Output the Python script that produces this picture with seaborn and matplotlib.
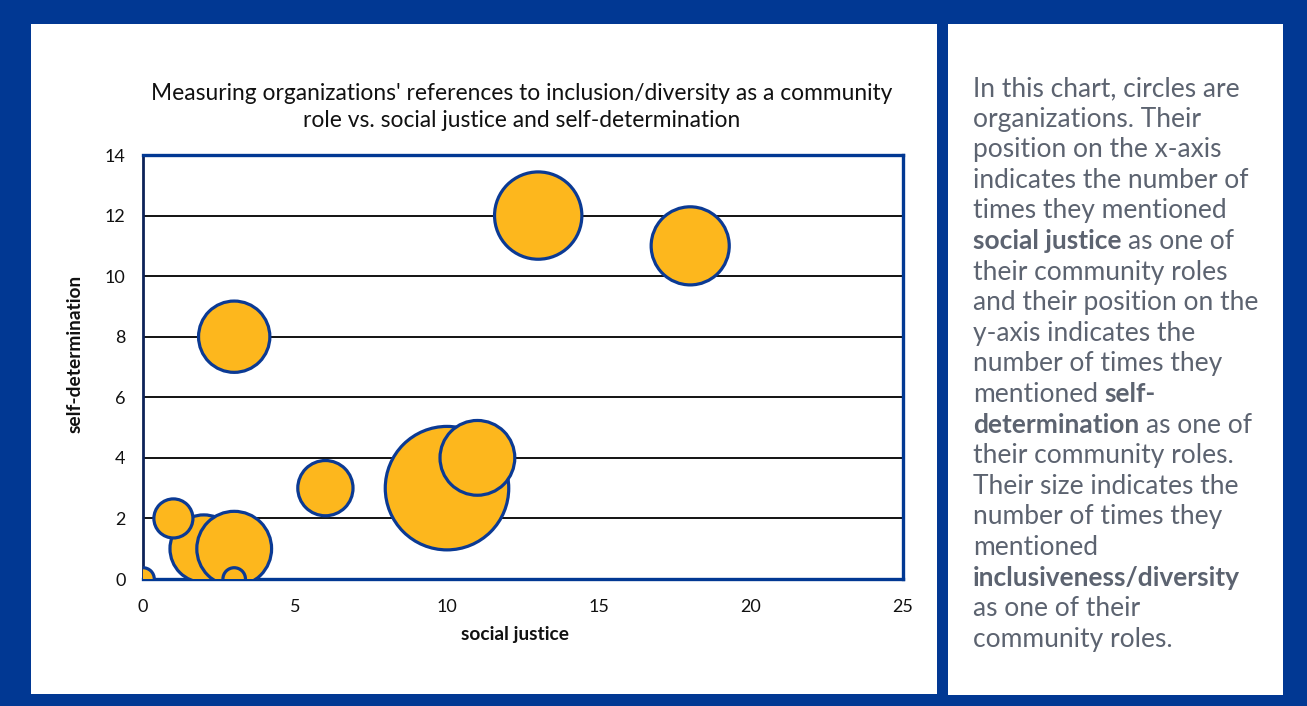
import matplotlib
matplotlib.use("Agg")
import matplotlib.pyplot as plt
from matplotlib.patches import Rectangle
import pandas as pd
import seaborn as sns

# Organizations: mentions of social justice (x), self-determination (y)
# and inclusiveness/diversity (bubble size)
social_justice = [10, 13, 18, 11, 2, 3, 3, 6, 1, 0, 3]
self_determination = [3, 12, 11, 4, 1, 1, 8, 3, 2, 0, 0]
inclusiveness = [30, 15, 12, 11, 9, 11, 10, 6, 3, 1, 1]

x_ticks = [0, 5, 10, 15, 20, 25]
y_ticks = [0, 2, 4, 6, 8, 10, 12, 14]

title_lines = [
    "Measuring organizations' references to inclusion/diversity as a community",
    "role vs. social justice and self-determination",
]
x_label = "social justice"
y_label = "self-determination"

# Side note, line by line; (text, bold) segments
note_lines = [
    [("In this chart, circles are", False)],
    [("organizations. Their", False)],
    [("position on the x-axis", False)],
    [("indicates the number of", False)],
    [("times they mentioned", False)],
    [("social justice", True), (" as one of", False)],
    [("their community roles", False)],
    [("and their position on the", False)],
    [("y-axis indicates the", False)],
    [("number of times they", False)],
    [("mentioned ", False), ("self-", True)],
    [("determination", True), (" as one of", False)],
    [("their community roles.", False)],
    [("Their size indicates the", False)],
    [("number of times they", False)],
    [("mentioned", False)],
    [("inclusiveness/diversity", True)],
    [("as one of their", False)],
    [("community roles.", False)],
]

BLUE = "#013893"
EDGE = "#0b3a94"
GOLD = "#fdb71d"
NOTE_GREY = "#5c6370"

sns.set_theme(style="white")
plt.rcParams["font.family"] = ["Lato", "DejaVu Sans"]

W, H = 1307, 706
fig = plt.figure(figsize=(W / 100, H / 100), dpi=100, facecolor=BLUE)


def fx(px):
    return px / W


def fy(py):
    return 1 - py / H


# white panels on the blue background, kept beneath the axes
fig.patches.append(Rectangle((fx(31), fy(694)), (937 - 31) / W, (694 - 24) / H,
                             transform=fig.transFigure, facecolor="white",
                             edgecolor="none", zorder=-2))
fig.patches.append(Rectangle((fx(948), fy(695)), (1283 - 948) / W, (695 - 24) / H,
                             transform=fig.transFigure, facecolor="white",
                             edgecolor="none", zorder=-2))

ax = fig.add_axes([fx(143), fy(579), (903 - 143) / W, (579 - 155) / H])
ax.set_facecolor("white")

df = pd.DataFrame({
    "social justice": social_justice,
    "self-determination": self_determination,
    "inclusiveness": inclusiveness,
})

S_MAX = 7905  # marker area (pt^2) for the largest count
sns.scatterplot(data=df, x="social justice", y="self-determination",
                size="inclusiveness", sizes=(0, S_MAX), size_norm=(0, 30),
                color=GOLD, edgecolor=EDGE, linewidth=2.3, alpha=1,
                legend=False, ax=ax, zorder=3)

ax.set_xlim(0, 25)
ax.set_ylim(0, 14)
ax.set_xticks(x_ticks)
ax.set_yticks(y_ticks)
ax.yaxis.grid(True, color="black", linewidth=1.3)
ax.xaxis.grid(False)
ax.set_axisbelow(True)

ax.tick_params(axis="both", direction="out", length=4.5, width=1.1,
               color="black", labelsize=13, labelcolor="#111111")
ax.tick_params(axis="y", pad=8)
ax.tick_params(axis="x", pad=10)

for side in ["top", "right", "bottom"]:
    ax.spines[side].set_color(BLUE)
    ax.spines[side].set_linewidth(2.4)
ax.spines["left"].set_color("#0d2258")
ax.spines["left"].set_linewidth(2.0)

ax.set_xlabel(x_label, fontweight="bold", fontsize=13.8, color="#111111")
ax.set_ylabel(y_label, fontweight="bold", fontsize=13.8, color="#111111")
ax.xaxis.set_label_coords((515 - 143) / 760, (579 - 626) / 424)
ax.yaxis.set_label_coords((84 - 143) / 760, (579 - 354) / 424)

# chart title
for i, line in enumerate(title_lines):
    fig.text(fx(522), fy(100 + 27 * i), line, ha="center", va="baseline",
             fontsize=16.4, color="#111111")

# side note with bold phrases
fig.canvas.draw()
renderer = fig.canvas.get_renderer()


def text_width(s, bold):
    t = fig.text(0, 0, s, fontsize=19, fontweight="bold" if bold else "normal")
    w = t.get_window_extent(renderer).width
    t.remove()
    return w


space_w = text_width("x x", False) - text_width("xx", False)

for i, segments in enumerate(note_lines):
    x = 973
    y = fy(96 + 30.6 * i)
    for seg, bold in segments:
        lead = len(seg) - len(seg.lstrip(" "))
        trail = len(seg) - len(seg.rstrip(" "))
        core = seg.strip(" ")
        x += lead * space_w
        fig.text(fx(x), y, core, ha="left", va="baseline", fontsize=19,
                 fontweight="bold" if bold else "normal", color=NOTE_GREY)
        x += text_width(core, bold) + trail * space_w

fig.savefig("out.png", dpi=100, facecolor=BLUE)
